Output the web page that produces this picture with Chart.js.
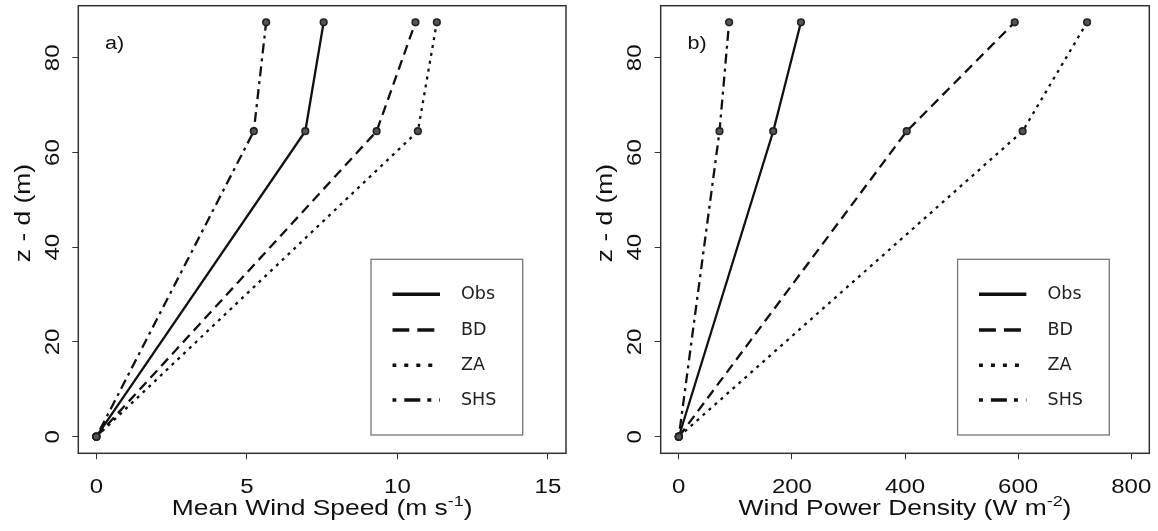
<!DOCTYPE html>
<html>
<head>
<meta charset="utf-8">
<script src="https://cdn.jsdelivr.net/npm/chart.js@4.4.1/dist/chart.umd.min.js"></script>
<style>
  body { margin: 0; background: #fff; }
  #wrap { position: relative; width: 1158px; height: 531px; }
  canvas { position: absolute; top: 0; }
</style>
</head>
<body>
<div id="wrap">
  <canvas id="chartA" width="579" height="531" style="left:0"></canvas>
  <canvas id="chartB" width="579" height="531" style="left:579px"></canvas>
</div>
<script>
// data
const seriesNames = ['Obs', 'BD', 'ZA', 'SHS'];
const heights = [0, 64.5, 87.5];

const speedObs = [0, 6.94, 7.55];
const speedBD  = [0, 9.31, 10.6];
const speedZA  = [0, 10.68, 11.31];
const speedSHS = [0, 5.23, 5.64];

const powerObs = [0, 167, 216];
const powerBD  = [0, 403, 594];
const powerZA  = [0, 608, 722];
const powerSHS = [0, 72, 89];

const speedTicks  = [0, 5, 10, 15];
const powerTicks  = [0, 200, 400, 600, 800];
const heightTicks = [0, 20, 40, 60, 80];

const plotDash   = { Obs: [], BD: [10, 6], ZA: [3, 5], SHS: [3, 5, 10, 5] };
const legendDash = { Obs: [], BD: [17, 8], ZA: [4, 8], SHS: [4, 8, 16, 7] };

const STRETCH = 1.2;
const RFONT = '"Liberation Sans", Arial, sans-serif';

// R text here is wider than Arial, so it is drawn with a small stretch along the text
function drawText(ctx, parts, x, y, rot, size, align) {
  ctx.save();
  ctx.translate(x, y);
  ctx.rotate(rot);
  ctx.scale(STRETCH, 1);
  ctx.textBaseline = 'alphabetic';
  ctx.textAlign = 'left';
  let w = 0;
  parts.forEach(p => {
    ctx.font = (p.sup ? size * 0.68 : size) + 'px ' + RFONT;
    p.w = ctx.measureText(p.t).width;
    w += p.w;
  });
  let cx = align === 'left' ? 0 : -w / 2;
  parts.forEach(p => {
    ctx.font = (p.sup ? size * 0.68 : size) + 'px ' + RFONT;
    ctx.fillText(p.t, cx, p.sup ? -size * 0.42 : 0);
    cx += p.w;
  });
  ctx.restore();
}

const frame = {
  id: 'frame',
  afterDraw(chart, args, opts) {
    const { ctx, chartArea: a } = chart;
    const xs = chart.scales.x, ys = chart.scales.y;
    ctx.save();
    ctx.strokeStyle = '#333';
    ctx.lineWidth = 1.5;
    ctx.strokeRect(a.left, a.top, a.right - a.left, a.bottom - a.top);

    ctx.fillStyle = '#111';
    xs.ticks.forEach(t => drawText(ctx, [{ t: String(t.value) }], xs.getPixelForValue(t.value), a.bottom + 39.7, 0, 20));
    ys.ticks.forEach(t => drawText(ctx, [{ t: String(t.value) }], a.left - 19.5, ys.getPixelForValue(t.value), -Math.PI / 2, 20));
    drawText(ctx, opts.xTitle, (a.left + a.right) / 2, 515, 0, 22);
    drawText(ctx, [{ t: 'z - d (m)' }], a.left - 48.3, 213, -Math.PI / 2, 22);
    drawText(ctx, [{ t: opts.tag }], a.left + 26.7, a.top + 43.3, 0, 18, 'left');

    // legend box
    const bl = a.right - opts.legendRight - 151.7, bt = 259.3;
    ctx.strokeStyle = '#777';
    ctx.lineWidth = 1.3;
    ctx.strokeRect(bl, bt, 151.7, 175.7);
    const rows = [35, 70.7, 106, 140.7];
    seriesNames.forEach((n, i) => {
      const yy = bt + rows[i];
      ctx.save();
      ctx.beginPath();
      ctx.rect(bl + 21.3, yy - 3, 47.7, 6);
      ctx.clip();
      ctx.strokeStyle = '#111';
      ctx.lineWidth = 3.5;
      ctx.setLineDash(legendDash[n]);
      ctx.beginPath();
      ctx.moveTo(bl + 21.3, yy);
      ctx.lineTo(bl + 69, yy);
      ctx.stroke();
      ctx.restore();
      ctx.fillStyle = '#222';
      ctx.font = '17.5px "DejaVu Sans", sans-serif';
      ctx.textBaseline = 'middle';
      ctx.textAlign = 'left';
      ctx.fillText(n, bl + 90, yy);
    });
    ctx.restore();
  }
};

function makeChart(id, xSeries, xMin, xMax, xTicks, yAxisW, padRight, xTitle, tag, legendRight) {
  const datasets = seriesNames.map((n, i) => ({
    label: n,
    data: heights.map((h, k) => ({ x: xSeries[i][k], y: h })),
    borderColor: '#111',
    borderWidth: 2.3,
    borderDash: plotDash[n],
    pointRadius: 3.3,
    pointBorderWidth: 1.6,
    pointBorderColor: '#222',
    pointBackgroundColor: '#555',
    fill: false,
    tension: 0
  }));
  return new Chart(document.getElementById(id), {
    type: 'line',
    data: { datasets },
    plugins: [frame],
    options: {
      responsive: false,
      animation: false,
      devicePixelRatio: 1,
      layout: { padding: { top: 5.7, right: padRight, left: 0, bottom: 0 } },
      plugins: {
        legend: { display: false },
        tooltip: { enabled: false },
        frame: { xTitle, tag, legendRight }
      },
      scales: {
        x: {
          type: 'linear', position: 'bottom', min: xMin, max: xMax,
          afterBuildTicks: s => { s.ticks = xTicks.map(v => ({ value: v })); },
          afterFit: s => { s.height = 77.7; },
          ticks: { display: false },
          border: { display: false },
          grid: { drawOnChartArea: false, drawTicks: true, tickLength: 6, color: '#333', lineWidth: 1 }
        },
        y: {
          type: 'linear', position: 'left', min: -3.5, max: 91,
          afterBuildTicks: s => { s.ticks = heightTicks.map(v => ({ value: v })); },
          afterFit: s => { s.width = yAxisW; },
          ticks: { display: false },
          border: { display: false },
          grid: { drawOnChartArea: false, drawTicks: true, tickLength: 6, color: '#333', lineWidth: 1 }
        }
      }
    }
  });
}

makeChart('chartA', [speedObs, speedBD, speedZA, speedSHS], -0.6, 15.6, speedTicks, 78.3, 13,
  [{ t: 'Mean Wind Speed (m s' }, { t: '-1', sup: true }, { t: ')' }], 'a)', 43.3);
makeChart('chartB', [powerObs, powerBD, powerZA, powerSHS], -32, 832, powerTicks, 81.7, 8.7,
  [{ t: 'Wind Power Density (W m' }, { t: '-2', sup: true }, { t: ')' }], 'b)', 40);
</script>
</body>
</html>
